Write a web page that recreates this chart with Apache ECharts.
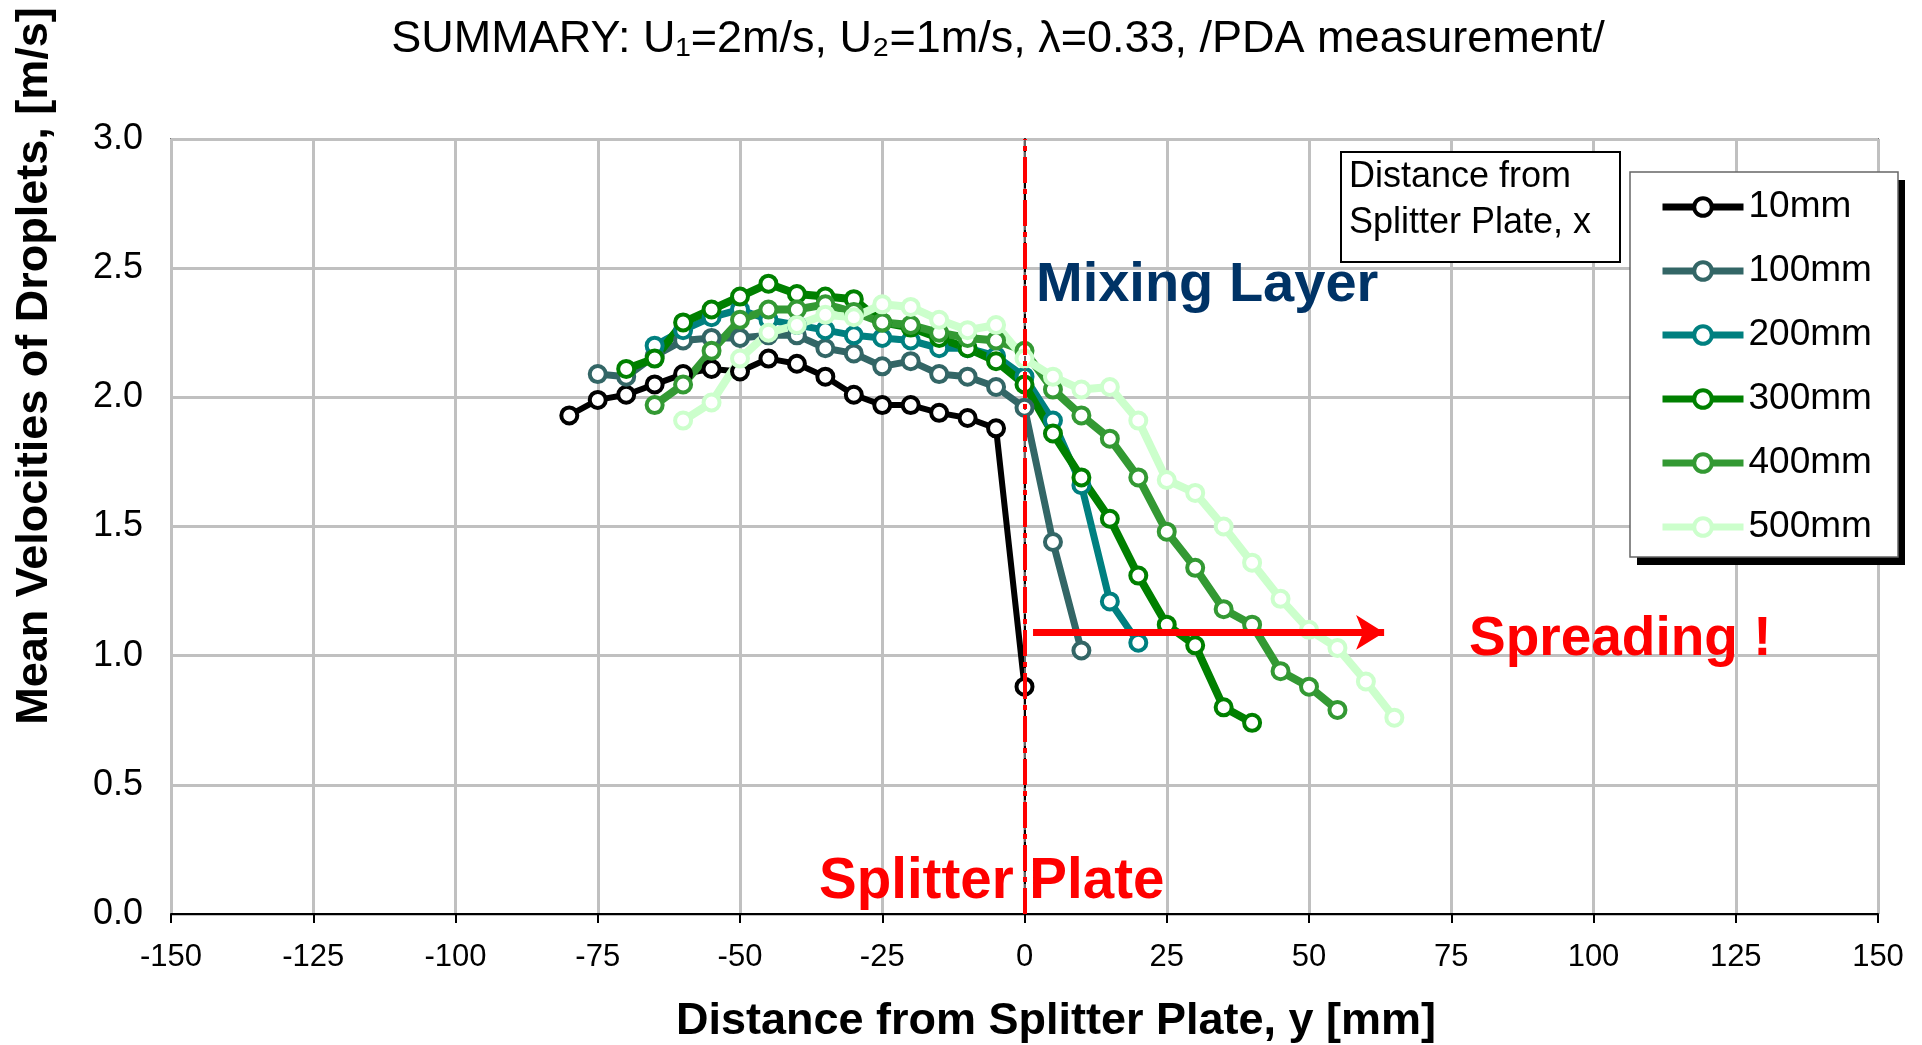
<!DOCTYPE html>
<html>
<head>
<meta charset="utf-8">
<script src="https://cdn.jsdelivr.net/npm/echarts@6/dist/echarts.min.js"></script>
<style>
html, body { margin: 0; padding: 0; background: #fff; }
#chart { width: 1922px; height: 1045px; }
</style>
</head>
<body>
<div id="chart"></div>
<script>
const FONT = '"Liberation Sans", Arial, sans-serif'

// distance from splitter plate, y [mm]
const y10mm = [-80, -75, -70, -65, -60, -55, -50, -45, -40, -35, -30, -25, -20, -15, -10, -5, 0]
const y100mm = [-75, -70, -65, -60, -55, -50, -45, -40, -35, -30, -25, -20, -15, -10, -5, 0, 5, 10]
const y200mm = [-65, -60, -55, -50, -45, -40, -35, -30, -25, -20, -15, -10, -5, 0, 5, 10, 15, 20]
const y300mm = [-70, -65, -60, -55, -50, -45, -40, -35, -30, -25, -20, -15, -10, -5, 0, 5, 10, 15, 20, 25, 30, 35, 40]
const y400mm = [-65, -60, -55, -50, -45, -40, -35, -30, -25, -20, -15, -10, -5, 0, 5, 10, 15, 20, 25, 30, 35, 40, 45, 50, 55]
const y500mm = [-60, -55, -50, -45, -40, -35, -30, -25, -20, -15, -10, -5, 0, 5, 10, 15, 20, 25, 30, 35, 40, 45, 50, 55, 60, 65]

// mean velocities of droplets [m/s]
const v10mm = [1.93, 1.99, 2.01, 2.05, 2.09, 2.11, 2.10, 2.15, 2.13, 2.08, 2.01, 1.97, 1.97, 1.94, 1.92, 1.88, 0.88]
const v100mm = [2.09, 2.08, 2.16, 2.22, 2.23, 2.23, 2.24, 2.24, 2.19, 2.17, 2.12, 2.14, 2.09, 2.08, 2.04, 1.96, 1.44, 1.02]
const v200mm = [2.20, 2.26, 2.31, 2.34, 2.30, 2.28, 2.26, 2.24, 2.23, 2.22, 2.19, 2.19, 2.16, 2.08, 1.91, 1.66, 1.21, 1.05]
const v300mm = [2.11, 2.15, 2.29, 2.34, 2.39, 2.44, 2.40, 2.39, 2.38, 2.29, 2.27, 2.23, 2.19, 2.14, 2.05, 1.86, 1.69, 1.53, 1.31, 1.12, 1.04, 0.80, 0.74]
const v400mm = [1.97, 2.05, 2.18, 2.30, 2.34, 2.34, 2.36, 2.33, 2.29, 2.28, 2.25, 2.23, 2.22, 2.18, 2.03, 1.93, 1.84, 1.69, 1.48, 1.34, 1.18, 1.12, 0.94, 0.88, 0.79]
const v500mm = [1.91, 1.98, 2.15, 2.25, 2.28, 2.32, 2.31, 2.36, 2.35, 2.30, 2.26, 2.28, 2.15, 2.08, 2.03, 2.04, 1.91, 1.68, 1.63, 1.50, 1.36, 1.22, 1.10, 1.03, 0.90, 0.76]

const seriesNames = ['10mm', '100mm', '200mm', '300mm', '400mm', '500mm']
const seriesX = [y10mm, y100mm, y200mm, y300mm, y400mm, y500mm]
const seriesV = [v10mm, v100mm, v200mm, v300mm, v400mm, v500mm]
const colors = ['#000000', '#336666', '#008080', '#008000', '#339933', '#ccffcc']
const lineWidths = [6, 7, 7, 8, 8, 8]

// axis range
const xMin = -150, xMax = 150, xStep = 25
const vMin = 0, vMax = 3, vStep = 0.5

const chart = echarts.init(document.getElementById('chart'))

const series = seriesNames.map((name, i) => ({
  name,
  type: 'line',
  data: seriesX[i].map((x, j) => [x, seriesV[i][j]]),
  symbol: 'circle',
  symbolSize: 16,
  lineStyle: { color: colors[i], width: lineWidths[i] },
  itemStyle: { color: '#fff', borderColor: colors[i], borderWidth: 4 },
  emphasis: { disabled: true },
  animation: false,
}))

// 分割板 和 扩散箭头
series.push({
  name: 'annotations',
  type: 'line',
  data: [],
  color: '#ff0000',
  animation: false,
  markLine: {
    silent: true,
    symbol: 'none',
    animation: false,
    label: { show: false },
    data: [
      { xAxis: 0, lineStyle: { color: '#666', width: 2, type: [6, 6] } },
      { xAxis: 0, lineStyle: { color: '#ff0000', width: 4, type: [26, 6, 5, 6] } },
      [
        { coord: [1.5, 1.09], symbol: 'none', lineStyle: { color: '#ff0000', width: 7, type: 'solid' } },
        { coord: [63.2, 1.09], symbol: 'arrow', symbolSize: [26, 28] },
      ],
    ],
  },
})

const axisFont = { color: '#000', fontFamily: FONT }

const textEl = (x, y, text, font, fill, align, z, rotation) => ({
  type: 'text',
  x, y, z: z || 10,
  rotation: rotation || 0,
  style: {
    text, font, fill,
    textAlign: align, align,
    textVerticalAlign: 'middle', verticalAlign: 'middle',
  },
})

const option = {
  backgroundColor: '#fff',
  animation: false,
  grid: {
    left: 171, right: 44, top: 139, bottom: 131,
    show: true, borderColor: '#777', borderWidth: 2,
  },
  xAxis: {
    type: 'value',
    min: xMin, max: xMax, interval: xStep,
    axisLine: { show: true, onZero: false, lineStyle: { color: '#000', width: 2 } },
    axisTick: { show: true, length: 9, lineStyle: { color: '#000', width: 2 } },
    axisLabel: { ...axisFont, fontSize: 31, margin: 28, showMinLabel: true, showMaxLabel: true },
    splitLine: { show: true, lineStyle: { color: '#c0c0c0', width: 3 } },
  },
  yAxis: {
    type: 'value',
    min: vMin, max: vMax, interval: vStep,
    axisLine: { show: true, lineStyle: { color: '#000', width: 2 } },
    axisTick: { show: false },
    axisLabel: { ...axisFont, fontSize: 36, margin: 28, formatter: v => v.toFixed(1) },
    splitLine: { show: true, lineStyle: { color: '#c0c0c0', width: 3 } },
  },
  legend: {
    data: seriesNames,
    orient: 'vertical',
    left: 1659, top: 188,
    itemWidth: 81, itemHeight: 22, itemGap: 26,
    padding: 0,
    selectedMode: false,
    lineStyle: { width: 7 },
    itemStyle: { borderWidth: 4 },
    textStyle: { fontSize: 37, fontFamily: FONT, color: '#000', lineHeight: 38 },
    z: 6,
  },
  graphic: [
    textEl(998, 40, 'SUMMARY: U\u2081=2m/s, U\u2082=1m/s, \u03bb=0.33, /PDA measurement/', '45px ' + FONT, '#000', 'center'),
    textEl(35, 366, 'Mean Velocities of Droplets, [m/s]', 'bold 45px ' + FONT, '#000', 'center', 10, Math.PI / 2),
    textEl(1056, 1022, 'Distance from Splitter Plate, y [mm]', 'bold 45px ' + FONT, '#000', 'center'),
    textEl(1036, 286, 'Mixing Layer', 'bold 56px ' + FONT, '#003366', 'left'),
    textEl(819, 882, 'Splitter Plate', 'bold 56.5px ' + FONT, '#ff0000', 'left'),
    textEl(1469, 640, 'Spreading !', 'bold 55px ' + FONT, '#ff0000', 'left'),
    // 文本框
    {
      type: 'rect', z: 3,
      shape: { x: 1341, y: 152, width: 279, height: 110 },
      style: { fill: '#fff', stroke: '#000', lineWidth: 2 },
    },
    textEl(1349, 177, 'Distance from', '36px ' + FONT, '#000', 'left', 4),
    textEl(1349, 223, 'Splitter Plate, x', '36px ' + FONT, '#000', 'left', 4),
    // 图例框 + 阴影
    {
      type: 'rect', z: 3,
      shape: { x: 1637, y: 180, width: 268, height: 385 },
      style: { fill: '#000' },
    },
    {
      type: 'rect', z: 3,
      shape: { x: 1630, y: 172, width: 268, height: 385 },
      style: { fill: '#fff', stroke: '#666', lineWidth: 1.5 },
    },
  ],
  series,
}

chart.setOption(option)
</script>
</body>
</html>
